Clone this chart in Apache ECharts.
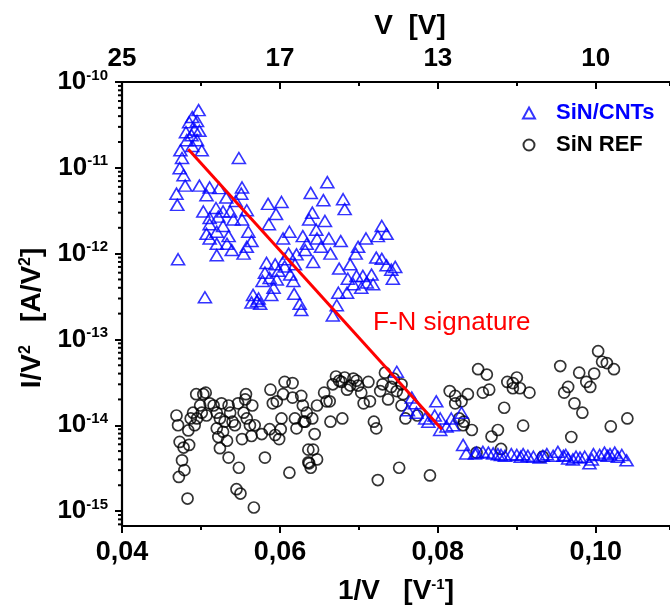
<!DOCTYPE html>
<html>
<head>
<meta charset="utf-8">
<script src="https://cdn.jsdelivr.net/npm/echarts@6/dist/echarts.min.js"></script>
<style>
  html, body { margin: 0; padding: 0; background: #fff; }
  #chart { width: 670px; height: 607px; }
</style>
</head>
<body>
<div id="chart"></div>
<script>
// Field-emission data: I/V^2 versus 1/V for the two samples.
const seriesNames = ['SiN/CNTs', 'SiN REF'];

// SiN/CNTs: [1/V (V^-1), I/V^2 (A/V^2)]
const sinCntPoints = [
  [0.0497,4.7e-11],[0.0489,3.9e-11],[0.0485,3.4e-11],[0.0495,3.5e-11],[0.0481,2.6e-11],[0.0498,2.7e-11],
  [0.0492,2.8e-11],[0.0488,2.4e-11],[0.0482,2.1e-11],[0.0495,2.1e-11],[0.0501,1.6e-11],[0.0474,1.6e-11],
  [0.0489,1.8e-11],[0.0476,1.3e-11],[0.0548,1.3e-11],
  [0.0473,9.9e-12],[0.0478,8.2e-12],[0.0480,6.2e-12],[0.0469,5.0e-12],[0.0470,3.7e-12],[0.0498,6.2e-12],
  [0.0511,5.9e-12],[0.0523,5.8e-12],[0.0507,4.8e-12],[0.0532,4.5e-12],[0.0552,5.9e-12],[0.0551,5.0e-12],
  [0.0544,4.1e-12],[0.0585,3.8e-12],[0.0602,4.0e-12],[0.0503,3.1e-12],[0.0519,3.4e-12],[0.0528,3.1e-12],
  [0.0537,3.1e-12],[0.0558,3.2e-12],[0.0595,2.9e-12],[0.0511,2.6e-12],[0.0522,2.7e-12],[0.0541,2.5e-12],
  [0.0552,2.5e-12],[0.0511,2.2e-12],[0.0528,2.1e-12],[0.0586,2.2e-12],[0.0520,1.8e-12],[0.0560,1.8e-12],
  [0.0507,1.7e-12],[0.0535,1.6e-12],[0.0511,1.5e-12],[0.0564,1.4e-12],[0.0604,1.5e-12],[0.0520,1.3e-12],
  [0.0533,1.3e-12],[0.0558,1.2e-12],[0.0539,1.1e-12],[0.0554,1.0e-12],
  [0.0520,9.6e-13],[0.0471,8.6e-13],[0.0583,7.8e-13],[0.0594,7.5e-13],[0.0606,8.6e-13],[0.0581,6.0e-13],
  [0.0598,6.3e-13],[0.0587,5.2e-13],[0.0578,4.8e-13],[0.0596,5.0e-13],[0.0592,4.0e-13],[0.0505,3.1e-13],
  [0.0589,3.3e-13],[0.0566,3.3e-13],[0.0571,2.8e-13],[0.0564,2.7e-13],[0.0575,2.6e-13],[0.0573,3.0e-13],
  [0.0660,6.8e-12],[0.0639,5.1e-12],[0.0655,4.2e-12],[0.0680,4.3e-12],[0.0682,3.3e-12],[0.0641,3.0e-12],
  [0.0637,2.5e-12],[0.0657,2.4e-12],[0.0646,1.9e-12],[0.0729,2.1e-12],[0.0735,1.7e-12],[0.0724,1.6e-12],
  [0.0612,1.8e-12],[0.0629,1.6e-12],[0.0647,1.5e-12],[0.0662,1.5e-12],[0.0677,1.4e-12],[0.0709,1.5e-12],
  [0.0699,1.2e-12],[0.0634,1.3e-12],[0.0652,1.2e-12],[0.0632,1.1e-12],[0.0696,1.0e-12],[0.0664,1.0e-12],
  [0.0611,1.0e-12],[0.0621,9.8e-13],[0.0722,9.0e-13],[0.0729,8.7e-13],[0.0735,7.3e-13],[0.0746,7.0e-13],
  [0.0741,6.5e-13],[0.0642,8.0e-13],[0.0606,7.1e-13],[0.0619,7.5e-13],[0.0675,6.7e-13],[0.0689,7.5e-13],
  [0.0743,5.1e-13],[0.0686,5.1e-13],[0.0697,5.5e-13],[0.0705,5.5e-13],[0.0716,5.7e-13],[0.0710,4.6e-13],
  [0.0718,4.4e-13],[0.0703,4.0e-13],[0.0693,4.4e-13],[0.0613,5.7e-13],[0.0617,4.8e-13],[0.0674,3.5e-13],
  [0.0685,3.5e-13],[0.0618,3.4e-13],[0.0625,2.6e-13],[0.0672,2.5e-13],[0.0627,2.2e-13],[0.0667,1.9e-13],
  [0.0748,4.2e-14],[0.0767,2.1e-14],[0.0771,1.8e-14],[0.0798,1.9e-14],[0.0762,1.5e-14],[0.0773,1.4e-14],
  [0.0784,1.2e-14],[0.0796,1.3e-14],[0.0788,1.1e-14],[0.0803,1.2e-14],[0.0811,9.7e-15],[0.0817,1.2e-14],
  [0.0830,1.4e-14],[0.0819,1.0e-14],[0.0803,8.8e-15],[0.0832,5.9e-15],[0.0836,4.7e-15],[0.0847,4.7e-15],
  [0.0849,4.8e-15],[0.0857,4.9e-15],[0.0864,4.8e-15],[0.0870,4.7e-15],[0.0876,4.6e-15],[0.0880,4.5e-15],
  [0.0885,4.4e-15],[0.0893,4.6e-15],[0.0900,4.5e-15],[0.0905,4.3e-15],[0.0908,4.6e-15],[0.0914,4.4e-15],
  [0.0921,4.3e-15],[0.0929,4.2e-15],[0.0933,4.4e-15],[0.0938,4.6e-15],[0.0946,4.4e-15],[0.0952,4.9e-15],
  [0.0959,4.4e-15],[0.0962,4.5e-15],[0.0965,4.1e-15],[0.0971,4.0e-15],[0.0975,4.3e-15],[0.0980,4.2e-15],
  [0.0986,4.3e-15],[0.0992,3.6e-15],[0.0995,4.0e-15],[0.0997,4.6e-15],[0.1005,4.5e-15],[0.1011,4.8e-15],
  [0.1015,4.4e-15],[0.1018,4.6e-15],[0.1024,4.8e-15],[0.1028,4.3e-15],[0.1033,4.5e-15],[0.1039,3.9e-15]
];

// SiN REF: [1/V (V^-1), I/V^2 (A/V^2)]
const sinRefPoints = [
  [0.0469,1.3e-14],[0.0471,1.0e-14],[0.0473,6.4e-15],[0.0478,5.5e-15],[0.0485,5.9e-15],[0.0476,3.9e-15],
  [0.0479,3.0e-15],[0.0472,2.5e-15],[0.0483,1.4e-15],[0.0484,8.7e-15],[0.0487,1.2e-14],[0.0490,1.4e-14],
  [0.0494,2.3e-14],[0.0503,2.3e-14],[0.0506,2.4e-14],[0.0499,1.7e-14],[0.0501,1.4e-14],[0.0507,1.3e-14],
  [0.0511,1.8e-14],[0.0516,1.7e-14],[0.0520,1.4e-14],[0.0492,1.0e-14],[0.0495,1.2e-14],[0.0526,1.8e-14],
  [0.0535,1.7e-14],[0.0524,1.2e-14],[0.0530,1.1e-14],[0.0537,1.4e-14],[0.0520,9.2e-15],[0.0528,8.4e-15],
  [0.0522,7.3e-15],[0.0533,6.6e-15],[0.0524,5.4e-15],[0.0535,4.2e-15],[0.0540,1.1e-14],[0.0543,1.0e-14],
  [0.0547,1.8e-14],[0.0557,2.3e-14],[0.0556,2.0e-14],[0.0565,1.7e-14],[0.0554,1.4e-14],[0.0558,1.2e-14],
  [0.0562,1.0e-14],[0.0568,1.0e-14],[0.0552,6.9e-15],[0.0564,7.5e-15],[0.0577,7.9e-15],[0.0548,3.2e-15],
  [0.0545,1.8e-15],[0.0550,1.6e-15],[0.0567,1.1e-15],[0.0581,4.2e-15],[0.0588,2.6e-14],[0.0591,1.8e-14],
  [0.0596,1.9e-14],[0.0587,9.0e-15],[0.0594,7.7e-15],[0.0599,6.9e-15],[0.0601,9.0e-15],[0.0602,1.2e-14],
  [0.0604,2.3e-14],[0.0606,3.2e-14],[0.0616,3.1e-14],[0.0616,2.1e-14],[0.0612,2.8e-15],[0.0619,1.2e-14],
  [0.0621,9.2e-15],[0.0627,2.2e-14],[0.0629,1.7e-14],[0.0630,1.1e-14],[0.0634,1.4e-14],[0.0636,3.7e-15],
  [0.0636,5.2e-15],[0.0632,1.1e-14],[0.0641,1.2e-14],[0.0644,7.9e-15],[0.0647,1.7e-14],[0.0656,2.4e-14],
  [0.0659,1.9e-14],[0.0663,1.9e-14],[0.0667,3.0e-14],[0.0671,3.7e-14],[0.0675,3.3e-14],[0.0678,3.2e-14],
  [0.0682,3.6e-14],[0.0685,2.6e-14],[0.0689,2.9e-14],[0.0693,3.5e-14],[0.0697,3.3e-14],[0.0699,2.9e-14],
  [0.0703,2.4e-14],[0.0706,1.8e-14],[0.0712,3.2e-14],[0.0714,1.9e-14],[0.0664,1.1e-14],[0.0679,1.2e-14],
  [0.0719,1.1e-14],[0.0722,9.2e-15],[0.0727,2.5e-14],[0.0730,3.0e-14],[0.0733,4.1e-14],[0.0737,2.0e-14],
  [0.0741,2.8e-14],[0.0744,3.5e-14],[0.0748,2.5e-14],[0.0754,3.0e-14],[0.0756,2.3e-14],[0.0754,1.7e-14],
  [0.0759,1.2e-14],[0.0774,1.3e-14],[0.0642,5.2e-15],[0.0647,4.0e-15],[0.0637,3.6e-15],[0.0639,3.2e-15],
  [0.0724,2.3e-15],[0.0751,3.2e-15],[0.0790,2.6e-15],[0.0815,2.5e-14],[0.0822,2.2e-14],[0.0822,1.8e-14],
  [0.0830,1.9e-14],[0.0838,2.3e-14],[0.0851,4.5e-14],[0.0827,1.2e-14],[0.0833,1.1e-14],[0.0843,8.8e-15],
  [0.0849,4.8e-15],[0.0862,3.9e-14],[0.0857,2.4e-14],[0.0865,2.6e-14],[0.0832,1.0e-14],[0.0884,1.6e-14],
  [0.0868,7.4e-15],[0.0876,8.8e-15],[0.0880,5.3e-15],[0.0888,3.2e-14],[0.0895,3.1e-14],[0.0900,3.6e-14],
  [0.0895,2.7e-14],[0.0904,2.7e-14],[0.0916,2.4e-14],[0.0908,9.9e-15],[0.0933,4.3e-15],[0.0955,4.9e-14],
  [0.0965,2.8e-14],[0.0960,2.4e-14],[0.0979,4.1e-14],[0.0973,1.8e-14],[0.0983,1.4e-14],[0.0969,7.3e-15],
  [0.0988,3.2e-14],[0.0993,2.8e-14],[0.0998,4.0e-14],[0.1003,7.3e-14],[0.1008,5.5e-14],[0.1014,5.3e-14],
  [0.1023,4.5e-14],[0.1019,9.7e-15],[0.1040,1.2e-14]
];

// Fowler-Nordheim fit line (end points)
const fnLinePoints = [[0.0484, 1.65e-11], [0.0805, 9.0e-15]];
const fnLabel = 'F-N signature';

// Axis ranges and tick labels
const xMin = 0.04, xMax = 0.1094, xMajor = 0.02, xMinor = 0.01;
const yMin = 6.7e-16, yMax = 1e-10;
const topTickValues = [0.04, 0.06, 0.08, 0.10];
const topTickLabels = ['25', '17', '13', '10'];

const FONT = '"Liberation Sans", Arial, sans-serif';
const BLUE = '#0000ff';
const RED = '#ff0000';

// Minor ticks of the logarithmic axis: 2..9 within every decade
const yMinorTicks = [];
for (let e = -16; e <= -11; e++) {
  for (let m = 2; m <= 9; m++) {
    const v = m * Math.pow(10, e);
    if (v > yMin && v < yMax) yMinorTicks.push([xMin, v]);
  }
}

const chart = echarts.init(document.getElementById('chart'), null, { renderer: 'canvas' });

const axisLineStyle = { color: '#000', width: 2.2 };
const tickStyle = { color: '#000', width: 2 };

// Major x axis (labels + long ticks)
function majorX(position, inside, labelOpt) {
  return {
    type: 'value', position, min: xMin, max: xMax, interval: xMajor,
    axisLine: { show: true, lineStyle: axisLineStyle },
    axisTick: { show: true, inside, length: 7, lineStyle: tickStyle },
    splitLine: { show: false },
    axisLabel: Object.assign({ color: '#000', fontFamily: FONT, fontWeight: 'bold', showMaxLabel: false }, labelOpt)
  };
}
// Companion x axis carrying the short minor ticks only
function minorX(position, inside) {
  return {
    type: 'value', position, min: xMin, max: xMax, interval: xMinor,
    axisLine: { show: false },
    axisTick: { show: true, inside, length: 4, lineStyle: tickStyle },
    splitLine: { show: false },
    axisLabel: { show: false }
  };
}

const option = {
  backgroundColor: '#fff',
  animation: false,
  grid: { left: 122, top: 82, right: 0, bottom: 81, containLabel: false },
  legend: {
    orient: 'vertical',
    left: 517,
    top: 97,
    itemWidth: 12,
    itemHeight: 11,
    itemGap: 10,
    selectedMode: false,
    textStyle: { fontFamily: FONT, fontSize: 22, fontWeight: 'bold', padding: [0, 0, 0, 16] },
    data: [
      { name: seriesNames[0], textStyle: { color: BLUE } },
      { name: seriesNames[1], textStyle: { color: '#000' } }
    ]
  },
  xAxis: [
    majorX('bottom', false, {
      margin: 13, fontSize: 27,
      formatter: v => v.toFixed(2).replace('.', ',')
    }),
    majorX('top', true, {
      margin: 10, fontSize: 26,
      formatter: v => {
        const i = topTickValues.findIndex(t => Math.abs(t - v) < 1e-9);
        return i >= 0 ? topTickLabels[i] : '';
      }
    }),
    minorX('bottom', false),
    minorX('top', true)
  ],
  yAxis: {
    type: 'log', logBase: 10, min: yMin, max: yMax,
    axisLine: { show: true, lineStyle: axisLineStyle },
    axisTick: { show: true, inside: false, length: 7, lineStyle: tickStyle },
    splitLine: { show: false },
    axisLabel: {
      margin: 14, color: '#000', fontFamily: FONT,
      showMinLabel: false,
      formatter: v => {
        const l = Math.log10(v);
        const e = Math.round(l);
        if (Math.abs(l - e) > 1e-6) return '';
        return '{b|10}{s|' + e + '}';
      },
      rich: {
        b: { fontFamily: FONT, fontSize: 26, fontWeight: 'bold', lineHeight: 28 },
        s: { fontFamily: FONT, fontSize: 15, fontWeight: 'bold', lineHeight: 12, verticalAlign: 'top' }
      }
    }
  },
  series: [
    {
      name: seriesNames[0], type: 'scatter', xAxisIndex: 0,
      symbol: 'triangle', symbolSize: [13, 11],
      itemStyle: { color: 'rgba(0,0,0,0)', borderColor: BLUE, borderWidth: 1.6 },
      data: sinCntPoints, z: 3
    },
    {
      name: seriesNames[1], type: 'scatter', xAxisIndex: 0,
      symbol: 'circle', symbolSize: 11,
      itemStyle: { color: 'rgba(0,0,0,0)', borderColor: '#000', borderWidth: 1.7 },
      data: sinRefPoints, z: 2
    },
    {
      name: 'F-N fit', type: 'line', xAxisIndex: 0,
      data: fnLinePoints, symbol: 'none',
      lineStyle: { color: RED, width: 3 }, z: 5
    },
    {
      name: 'y minor ticks', type: 'custom', xAxisIndex: 0, clip: false, silent: true,
      data: yMinorTicks,
      renderItem: (params, api) => {
        const p = api.coord([api.value(0), api.value(1)]);
        return {
          type: 'line',
          shape: { x1: p[0] - 4, y1: p[1], x2: p[0], y2: p[1] },
          style: { stroke: '#000', lineWidth: 2 }
        };
      },
      z: 6
    }
  ],
  graphic: [
    {
      type: 'text',
      style: {
        text: 'V  [V]', x: 410, y: 26, align: 'center', verticalAlign: 'middle',
        font: 'bold 28px ' + FONT, fill: '#000'
      }
    },
    {
      type: 'text',
      style: {
        text: '1/V   [V{s|-1}]', x: 396, y: 591, align: 'center', verticalAlign: 'middle',
        font: 'bold 28px ' + FONT, fill: '#000',
        rich: { s: { font: 'bold 15px ' + FONT, lineHeight: 12, verticalAlign: 'top' } }
      }
    },
    {
      type: 'text', x: 32, y: 318, rotation: Math.PI / 2,
      style: {
        text: 'I/V{s|2}   [A/V{s|2}]', x: 0, y: 0, align: 'center', verticalAlign: 'middle',
        font: 'bold 28px ' + FONT, fill: '#000',
        rich: { s: { font: 'bold 16px ' + FONT, lineHeight: 12, verticalAlign: 'top' } }
      }
    },
    {
      type: 'text',
      style: {
        text: fnLabel, x: 373, y: 323, align: 'left', verticalAlign: 'middle',
        font: '26px ' + FONT, fill: RED
      }
    }
  ]
};

chart.setOption(option);
</script>
</body>
</html>
